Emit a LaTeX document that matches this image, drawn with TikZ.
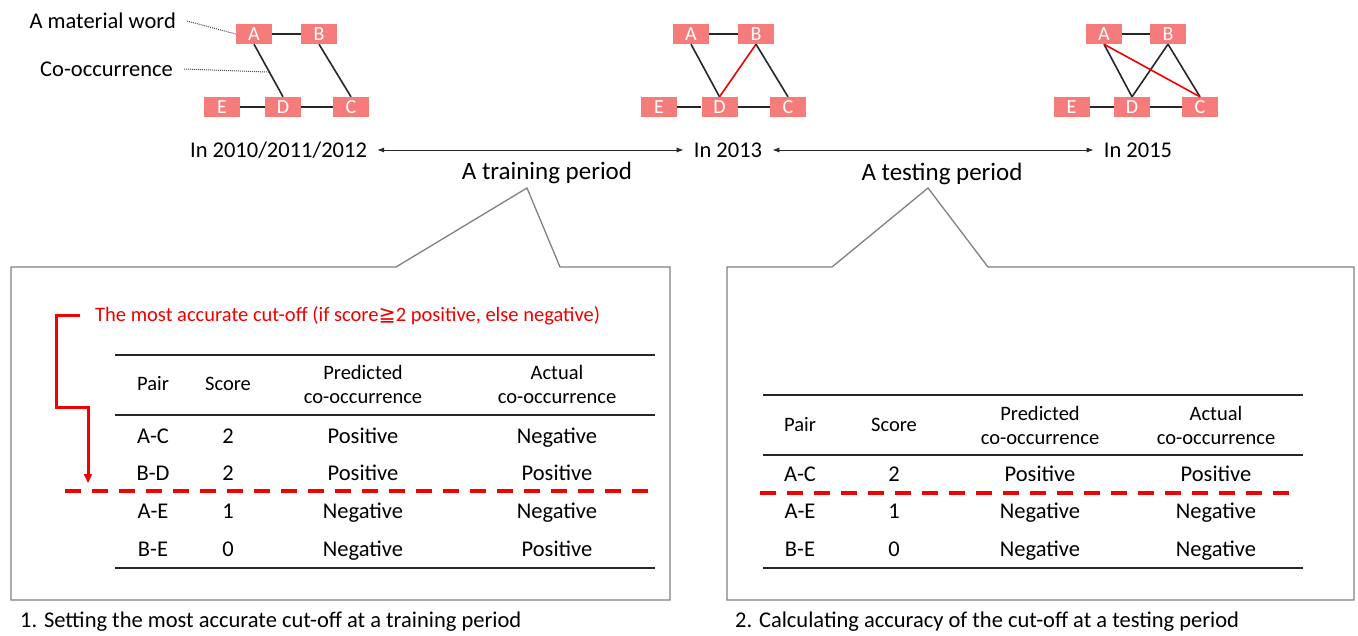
\documentclass[tikz,border=0pt]{standalone}
\usepackage{fontspec}
\setmainfont{Carlito}
\newfontfamily\symfont{DejaVu Sans}
\usetikzlibrary{arrows.meta,calc}
\definecolor{salmon}{RGB}{246,124,124}
\definecolor{boxgray}{RGB}{128,128,128}
\definecolor{hotred}{RGB}{240,0,0}
\newcommand{\fs}[1]{\fontsize{#1}{#1}\selectfont}
\tikzset{
  word/.style={rectangle, fill=salmon, minimum width=36pt, minimum height=20pt, inner sep=0pt, text=white, font=\fs{20}},
  cooc/.style={draw=black!85, line width=1.6pt},
  newcooc/.style={draw=hotred, line width=1.6pt},
  lbl/.style={inner sep=0pt, font=\fs{22.5}},
  yearlbl/.style={inner ysep=0pt, inner xsep=10pt, font=\fs{22.5}, text height=14.5pt, text depth=0pt},
  period/.style={inner sep=0pt, font=\fs{25}, anchor=base, yshift=-8pt},
  timeline/.style={draw=black!85, line width=0.9pt, {Latex[length=7pt,width=5pt]}-{Latex[length=7pt,width=5pt]}},
  pointer/.style={draw=black!70, line width=1pt, densely dotted},
  callout/.style={draw=boxgray, line width=1.3pt},
  rule/.style={draw=black!85, line width=1.6pt},
  cut/.style={draw=hotred, line width=4pt, dash pattern=on 15.5pt off 11.5pt},
  hd/.style={inner sep=0pt, font=\fs{20.5}, anchor=base, yshift=-6.6pt},
  cell/.style={inner sep=0pt, font=\fs{22.5}, anchor=base, yshift=-7.2pt},
  redtxt/.style={inner sep=0pt, font=\fs{20.5}, text=hotred},
  caption/.style={inner sep=0pt, font=\fs{22.5}}
}
\begin{document}
\begin{tikzpicture}[x=1pt, y=-1pt]
\useasboundingbox (0,0) rectangle (1358,635);

% ---------- graph 1 ----------
\node[word] (A1) at (254,34) {A};
\node[word] (B1) at (319,34) {B};
\node[word] (E1) at (222,107) {E};
\node[word] (D1) at (283,107) {D};
\node[word] (C1) at (351,107) {C};
\draw[cooc] (A1.east) -- (B1.west);
\draw[cooc] (A1.south) -- (D1.north);
\draw[cooc] (B1.south) -- (C1.north);
\draw[cooc] (E1.east) -- (D1.west);
\draw[cooc] (D1.east) -- (C1.west);
\node[lbl, anchor=east] (mw) at (176,21) {A material word};
\node[lbl, anchor=east] (co) at (173,69) {Co-occurrence};
\coordinate (coEdge) at ($(A1.south)!0.53!(D1.north)$);
\draw[pointer] ([xshift=11pt]mw.east) -- (A1.west);
\draw[pointer] ([xshift=11pt]co.east) -- (coEdge);

% ---------- graph 2 ----------
\node[word] (A2) at (691,34) {A};
\node[word] (B2) at (756,34) {B};
\node[word] (E2) at (659,107) {E};
\node[word] (D2) at (719.5,107) {D};
\node[word] (C2) at (788,107) {C};
\draw[cooc] (A2.east) -- (B2.west);
\draw[cooc] (A2.south) -- (D2.north);
\draw[newcooc] (B2.south) -- (D2.north);
\draw[cooc] (B2.south) -- (C2.north);
\draw[cooc] (E2.east) -- (D2.west);
\draw[cooc] (D2.east) -- (C2.west);

% ---------- graph 3 ----------
\node[word] (A3) at (1104,34) {A};
\node[word] (B3) at (1168,34) {B};
\node[word] (E3) at (1071.5,107) {E};
\node[word] (D3) at (1132,107) {D};
\node[word] (C3) at (1200,107) {C};
\draw[cooc] (A3.east) -- (B3.west);
\draw[cooc] (A3.south) -- (D3.north);
\draw[cooc] (B3.south) -- (D3.north);
\draw[cooc] (B3.south) -- (C3.north);
\draw[newcooc] (A3.south) -- (C3.north);
\draw[cooc] (E3.east) -- (D3.west);
\draw[cooc] (D3.east) -- (C3.west);

% ---------- timeline ----------
\node[yearlbl] (y1) at (278.5,150) {In 2010/2011/2012};
\node[yearlbl] (y2) at (728,150) {In 2013};
\node[yearlbl] (y3) at (1138,150) {In 2015};
\draw[timeline] (y1.east) -- (y2.west);
\draw[timeline] (y2.east) -- (y3.west);
\node[period] (train) at (547,171) {A training period};
\node[period] (test) at (942,172) {A testing period};

% ---------- callout boxes ----------
\draw[callout] (396,267) -- (11,267) -- (11,600) -- (670,600) -- (670,267) -- (560,267) -- (527,188) -- cycle;
\draw[callout] (832,267) -- (727,267) -- (727,600) -- (1354,600) -- (1354,267) -- (988,267) -- (928,188) -- cycle;

% ---------- table 1 ----------
\draw[rule] (115,355) -- (655,355);
\draw[rule] (115,415) -- (655,415);
\draw[rule] (115,568) -- (655,568);
\node[hd] (t1h1) at (153,384) {Pair};
\node[hd] (t1h2) at (228,384) {Score};
\node[hd] (t1h3) at (363,373) {Predicted};
\node[hd] (t1h3b) at (363,397) {co-occurrence};
\node[hd] (t1h4) at (557,373) {Actual};
\node[hd] (t1h4b) at (557,397) {co-occurrence};
\foreach \y/\p/\s/\pr/\ac [count=\i] in {436/A-C/2/Positive/Negative, 473/B-D/2/Positive/Positive, 511/A-E/1/Negative/Negative, 549/B-E/0/Negative/Positive}{
  \node[cell] (t1p\i) at (153,\y) {\p};
  \node[cell] (t1s\i) at (228,\y) {\s};
  \node[cell] (t1r\i) at (363,\y) {\pr};
  \node[cell] (t1a\i) at (557,\y) {\ac};
}
\coordinate (cut1L) at (65,491);
\coordinate (cut1R) at (650,491);
\draw[cut] (cut1L) -- (cut1R);
\node[redtxt, anchor=west] (cutlbl) at (95,316) {The most accurate cut-off (if score{\symfont ≧}2 positive, else negative)};
\coordinate (arrS) at (80,315);
\coordinate (arrE) at (88,483);
\draw[draw=hotred, line width=3pt, -{Triangle[length=9pt,width=8pt]}] (arrS) -- (56,315) -- (56,407) -- (88,407) -- (arrE);

% ---------- table 2 ----------
\draw[rule] (763,395) -- (1303,395);
\draw[rule] (763,455) -- (1303,455);
\draw[rule] (763,568) -- (1303,568);
\node[hd] (t2h1) at (800,425) {Pair};
\node[hd] (t2h2) at (894,425) {Score};
\node[hd] (t2h3) at (1040,414) {Predicted};
\node[hd] (t2h3b) at (1040,438) {co-occurrence};
\node[hd] (t2h4) at (1216,414) {Actual};
\node[hd] (t2h4b) at (1216,438) {co-occurrence};
\foreach \y/\p/\s/\pr/\ac [count=\i] in {474/A-C/2/Positive/Positive, 511/A-E/1/Negative/Negative, 549/B-E/0/Negative/Negative}{
  \node[cell] (t2p\i) at (800,\y) {\p};
  \node[cell] (t2s\i) at (894,\y) {\s};
  \node[cell] (t2r\i) at (1040,\y) {\pr};
  \node[cell] (t2a\i) at (1216,\y) {\ac};
}
\coordinate (cut2L) at (760,493);
\coordinate (cut2R) at (1290,493);
\draw[cut] (cut2L) -- (cut2R);

% ---------- captions ----------
\node[caption, anchor=west] (cap1) at (20,622) {1. Setting the most accurate cut-off at a training period};
\node[caption, anchor=west] (cap2) at (735,622) {2. Calculating accuracy of the cut-off at a testing period};
\end{tikzpicture}
\end{document}
